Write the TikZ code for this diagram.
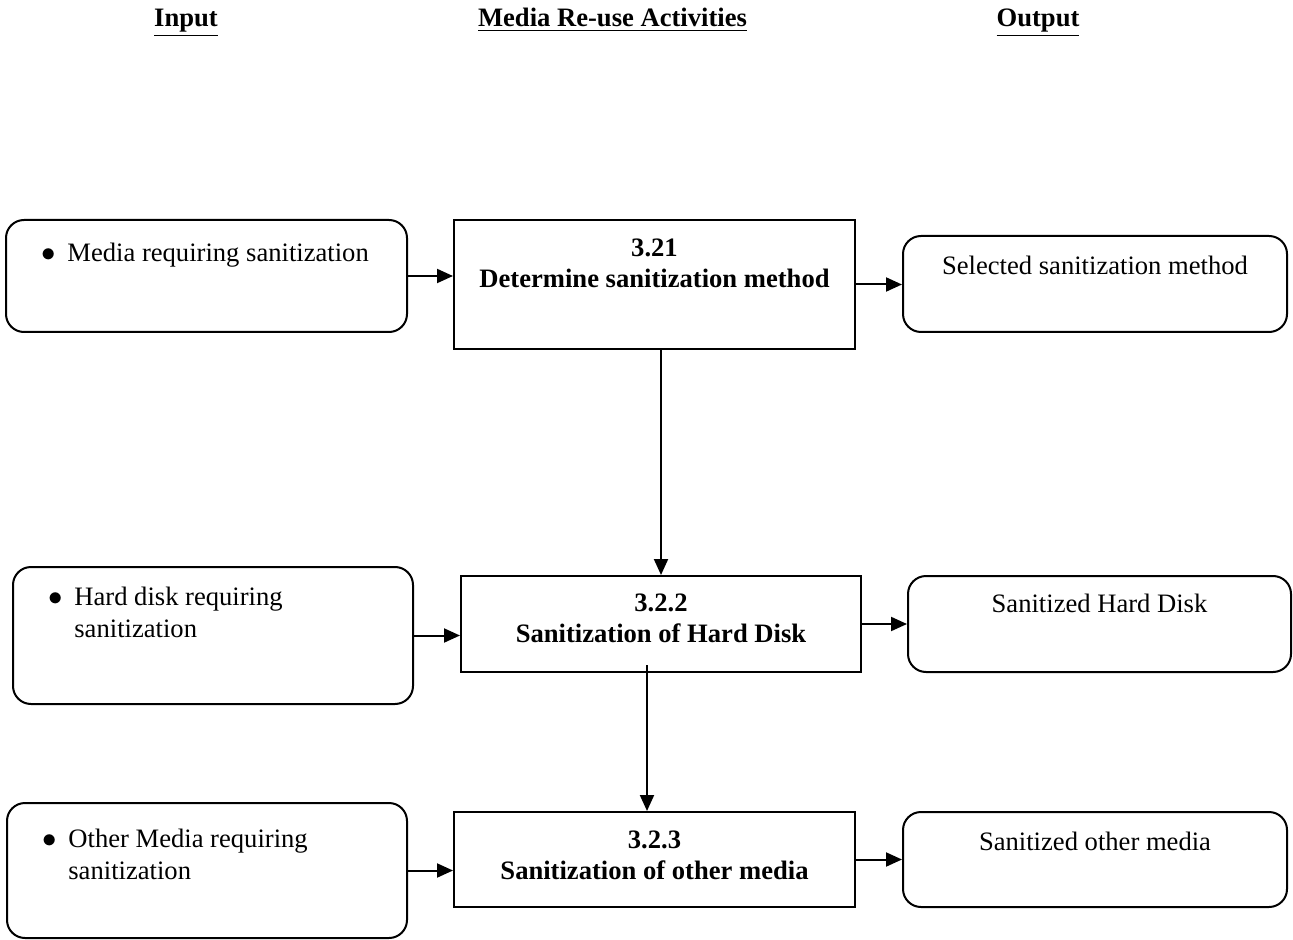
\documentclass[tikz,border=0pt]{standalone}
\usepackage{fontspec}
\setmainfont{Liberation Serif}
\usetikzlibrary{positioning, arrows.meta}

\begin{document}
\begin{tikzpicture}[x=0.5pt, y=-0.5pt,
        font=\fontsize{13.3}{16}\selectfont,
        InBox/.style={rectangle, draw=black, rounded corners=9pt, line width=1pt},
        OutBox/.style={rectangle, draw=black, rounded corners=9pt, line width=1pt, minimum width=192pt, minimum height=48pt},
        Activity/.style={rectangle, draw=black, line width=1pt, minimum width=200.5pt},
        Heading/.style={anchor=base, font=\fontsize{13.3}{16}\selectfont\bfseries},
        Bullet/.style={inner sep=0pt, align=left, anchor=north west},
        Title/.style={inner sep=0pt, align=center, anchor=north, font=\fontsize{13.3}{15.5}\selectfont\bfseries},
        Caption/.style={inner sep=0pt, anchor=north},
        Flow/.style={-{Triangle[length=8pt, width=7pt]}, line width=1pt}
    ]
    \useasboundingbox (0,0) rectangle (1293,940);

    % Column headings
    \node (HIn) [Heading] at (186,27) {\underline{Input}};
    \node (HAct) [Heading] at (612.5,27) {\underline{Media Re-use Activities}};
    \node (HOut) [Heading] at (1038,27) {\underline{Output}};

    % First row: determine the method
    \node (A1) [InBox, minimum width=200.5pt, minimum height=56pt] at (206.5,276) {};
    \node (P1) [Activity, minimum height=64.5pt] at (654.5,284.5) {};
    \node (O1) [OutBox] at (1095,284) {};
    \node (A1txt) [Bullet] at ([xshift=18pt, yshift=-12pt]A1.north west) {\makebox[13pt][l]{$\bullet$}Media requiring sanitization};
    \node (P1txt) [Title] at ([yshift=-9.5pt]P1.north) {3.21\\Determine sanitization method};
    \node (O1txt) [Caption] at ([yshift=-10.5pt]O1.north) {Selected sanitization method};

    % Second row: hard disk
    \node (A2) [InBox, minimum width=200pt, minimum height=68.5pt] at (213,635.5) {};
    \node (P2) [Activity, minimum width=200pt, minimum height=48pt] at (661,624) {};
    \node (O2) [OutBox, minimum width=191.5pt] at (1099.5,624) {};
    \node (A2txt) [Bullet] at ([xshift=18pt, yshift=-10.5pt]A2.north west) {\makebox[13pt][l]{$\bullet$}Hard disk requiring\\\hspace*{13pt}sanitization};
    \node (P2txt) [Title] at ([yshift=-9pt]P2.north) {3.2.2\\Sanitization of Hard Disk};
    \node (O2txt) [Caption] at ([yshift=-9.5pt]O2.north) {Sanitized Hard Disk};

    % Third row: other media
    \node (A3) [InBox, minimum width=200pt, minimum height=67.5pt] at (207,870.5) {};
    \node (P3) [Activity, minimum height=47.5pt] at (654.5,859.5) {};
    \node (O3) [OutBox, minimum height=47.5pt] at (1095,859.5) {};
    \node (A3txt) [Bullet] at ([xshift=18pt, yshift=-13.5pt]A3.north west) {\makebox[13pt][l]{$\bullet$}Other Media requiring\\\hspace*{13pt}sanitization};
    \node (P3txt) [Title] at ([yshift=-9.5pt]P3.north) {3.2.3\\Sanitization of other media};
    \node (O3txt) [Caption] at ([yshift=-10.5pt]O3.north) {Sanitized other media};

    % Inputs into the activities
    \draw[Flow] (A1.east) -- (A1.east -| P1.west);
    \draw[Flow] (A2.east) -- (A2.east -| P2.west);
    \draw[Flow] (A3.east) -- (A3.east -| P3.west);

    % Activities to outputs
    \draw[Flow] (P1.east) -- (P1.east -| O1.west);
    \draw[Flow] (P2.east) -- (P2.east -| O2.west);
    \draw[Flow] (P3.east) -- (P3.east -| O3.west);

    % Down the activity column
    \draw[Flow] (P1.south -| P2.north) -- (P2.north);
    \draw[Flow] ([xshift=-7pt, yshift=4pt]P2.south) -- ([xshift=-7pt]P2.south |- P3.north);

\end{tikzpicture}
\end{document}
